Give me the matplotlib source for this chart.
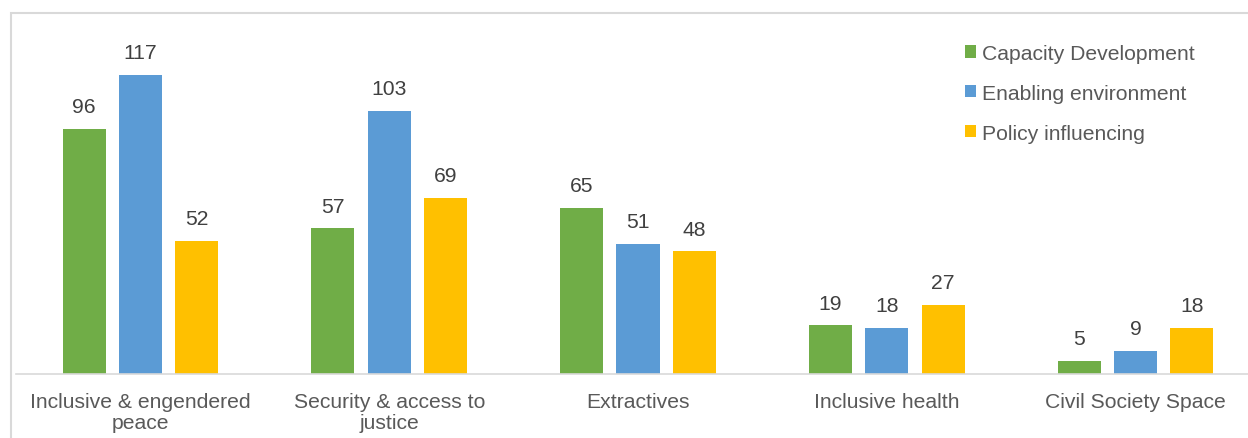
import numpy as np
import matplotlib.pyplot as plt
from matplotlib.patches import Rectangle

categories = ['Inclusive & engendered\npeace', 'Security & access to\njustice',
              'Extractives', 'Inclusive health', 'Civil Society Space']
series = ['Capacity Development', 'Enabling environment', 'Policy influencing']
capacity = [96, 57, 65, 19, 5]
enabling = [117, 103, 51, 18, 9]
policy = [52, 69, 48, 27, 18]
colors = ['#70ad47', '#5b9bd5', '#ffc000']

plt.rcParams['font.family'] = ['Liberation Sans', 'DejaVu Sans']
txt = '#595959'
fs = 15.2

W, H = 1248, 439
fig = plt.figure(figsize=(W / 100, H / 100), dpi=100)
fig.patches.append(Rectangle((11 / W, -0.1), 1.2, 1 - 14 / H + 0.1, transform=fig.transFigure,
                             fill=False, edgecolor='#d9d9d9', linewidth=1.5))

# axes placed in pixels: left 16, baseline at y=375, top of 117 at y=76
left, right = 16, 1260
bottom = H - 375
ppu = (375 - 76) / 117
top = 375 - 140 * ppu
ax = fig.add_axes([left / W, bottom / H, (right - left) / W, (375 - top) / H])

x = np.arange(len(categories))
off = 0.226
wd = 0.173
for i, (vals, name) in enumerate(zip([capacity, enabling, policy], series)):
    bars = ax.bar(x + (i - 1) * off, vals, wd, color=colors[i], label=name)
    for b, v in zip(bars, vals):
        ax.text(b.get_x() + b.get_width() / 2, v + 5, str(v), ha='center', va='bottom',
                fontsize=fs, color='#404040')

ax.set_xlim(-0.5, 4.5)
ax.set_ylim(0, 140)
ax.set_yticks([])
ax.set_xticks(x)
ax.set_xticklabels(categories, fontsize=fs, color=txt, linespacing=1.16)
ax.tick_params(axis='x', length=0, pad=13)
for s in ['top', 'right', 'left']:
    ax.spines[s].set_visible(False)
ax.spines['bottom'].set_color('#d9d9d9')
ax.spines['bottom'].set_linewidth(1.2)

leg = ax.legend(loc='upper left', bbox_to_anchor=(965 / W, 1 - 45 / H), bbox_transform=fig.transFigure,
                frameon=False, fontsize=fs, handlelength=0.5, handleheight=0.5,
                handletextpad=0.3, labelspacing=0.99, borderaxespad=0, borderpad=0)
for t in leg.get_texts():
    t.set_color(txt)

fig.savefig('out.png', dpi=100)
